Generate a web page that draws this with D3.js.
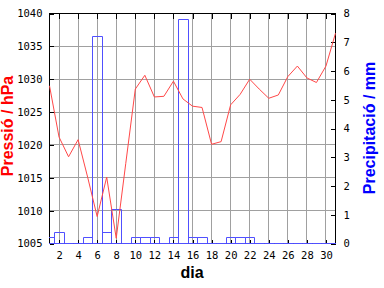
<!DOCTYPE html>
<html>
<head>
<meta charset="utf-8">
<script src="https://cdn.jsdelivr.net/npm/d3@7"></script>
<style>
	body { margin: 0; background: #fff; }
	.tick text { font-family: "DejaVu Sans Mono", monospace; font-size: 10.5px; fill: #000; }
	.title { font-family: "Liberation Sans", Arial, sans-serif; font-size: 16px; font-weight: bold; }
</style>
</head>
<body>
<script>
// data
const days = [1, 2, 3, 4, 5, 6, 7, 8, 9, 10, 11, 12, 13, 14, 15, 16, 17, 18, 19, 20, 21, 22, 23, 24, 25, 26, 27, 28, 29, 30, 31];
const pressure = [1029.0, 1021.2, 1018.2, 1020.8, 1015.1, 1009.1, 1015.1, 1005.8, 1017.2, 1028.5,
	1030.6, 1027.3, 1027.4, 1029.7, 1027.0, 1025.9, 1025.7, 1020.1, 1020.5, 1026.1,
	1027.7, 1030.0, 1028.5, 1027.1, 1027.6, 1030.4, 1032.0, 1030.2, 1029.5, 1032.0, 1037.0];
const precip = [0.2, 0.4, 0, 0, 0.2, 7.2, 0.4, 1.2, 0, 0.2,
	0.2, 0.2, 0, 0.2, 7.8, 0.2, 0.2, 0, 0, 0.2,
	0.2, 0.2, 0, 0, 0, 0, 0, 0, 0, 0, 0];
const dayTicks = [2, 4, 6, 8, 10, 12, 14, 16, 18, 20, 22, 24, 26, 28, 30];
const pressTicks = [1005, 1010, 1015, 1020, 1025, 1030, 1035, 1040];
const precipTicks = [0, 1, 2, 3, 4, 5, 6, 7, 8];

const width = 384, height = 288,
	plotL = 49.5, plotR = 335.5, plotT = 13.5, plotB = 243.5;

const svg = d3.select("body")
	.append("svg")
	.attr("width", width)
	.attr("height", height);

const x = d3.scaleLinear().domain([1, 31]).range([plotL, plotR]),
	yP = d3.scaleLinear().domain([1005, 1040]).range([plotB, plotT]),
	yR = d3.scaleLinear().domain([0, 8]).range([plotB, plotT]);

// grid
svg.append("g")
	.attr("shape-rendering", "crispEdges")
	.selectAll("line")
	.data(dayTicks)
	.enter()
	.append("line")
	.attr("x1", d => x(d)).attr("x2", d => x(d))
	.attr("y1", plotT).attr("y2", plotB)
	.attr("stroke", "#a0a0a0");
svg.append("g")
	.attr("shape-rendering", "crispEdges")
	.selectAll("line")
	.data(pressTicks.slice(1, -1))
	.enter()
	.append("line")
	.attr("x1", plotL).attr("x2", plotR)
	.attr("y1", d => yP(d)).attr("y2", d => yP(d))
	.attr("stroke", "#a0a0a0");

// frame
svg.append("rect")
	.attr("x", plotL).attr("y", plotT)
	.attr("width", plotR - plotL).attr("height", plotB - plotT)
	.attr("fill", "none")
	.attr("stroke", "#000");

// axes with inward ticks
const axisStyle = g => {
	g.select(".domain").remove();
	g.selectAll(".tick line").attr("stroke", "#000").attr("shape-rendering", "crispEdges");
};

svg.append("g")
	.attr("transform", `translate(${plotL},0)`)
	.call(d3.axisLeft(yP).tickValues(pressTicks).tickSize(-4).tickPadding(7).tickFormat(d3.format("d")))
	.call(axisStyle);
svg.append("g")
	.attr("transform", `translate(${plotR},0)`)
	.call(d3.axisRight(yR).tickValues(precipTicks).tickSize(-5).tickPadding(8))
	.call(axisStyle);
svg.append("g")
	.attr("transform", `translate(0,${plotB})`)
	.call(d3.axisBottom(x).tickValues(dayTicks).tickSize(-4).tickPadding(8))
	.call(axisStyle);
svg.append("g")
	.attr("transform", `translate(0,${plotT})`)
	.call(d3.axisTop(x).tickValues(dayTicks).tickSize(-5).tickFormat(""))
	.call(axisStyle);

// clip for bars
svg.append("clipPath")
	.attr("id", "plot")
	.append("rect")
	.attr("x", plotL - 0.5).attr("y", plotT - 0.5)
	.attr("width", plotR - plotL + 1).attr("height", plotB - plotT + 1);

// precipitation bars (paths so that zero bars still show)
svg.append("g")
	.attr("clip-path", "url(#plot)")
	.selectAll("path")
	.data(days)
	.enter()
	.append("path")
	.attr("d", (d, i) => {
		const x0 = Math.round(x(d - 0.5)) + 0.5, x1 = Math.round(x(d + 0.5)) + 0.5,
			y0 = plotB, y1 = Math.round(yR(precip[i]) - 0.5) + 0.5;
		return `M${x0},${y0}V${y1}H${x1}V${y0}Z`;
	})
	.attr("fill", "none")
	.attr("stroke", "#5050ff");

// pressure line
const line = d3.line()
	.x((d, i) => x(days[i]))
	.y(d => yP(d));

svg.append("path")
	.datum(pressure)
	.attr("d", line)
	.attr("fill", "none")
	.attr("stroke", "#ff4848");

// titles
svg.append("text")
	.attr("class", "title")
	.attr("transform", "translate(13,126) rotate(-90)")
	.attr("text-anchor", "middle")
	.attr("fill", "#ff0000")
	.text("Pressió / hPa");
svg.append("text")
	.attr("class", "title")
	.attr("transform", "translate(375,128) rotate(-90)")
	.attr("text-anchor", "middle")
	.attr("fill", "#0000ff")
	.text("Precipitació / mm");
svg.append("text")
	.attr("class", "title")
	.attr("x", 192)
	.attr("y", 278)
	.attr("text-anchor", "middle")
	.attr("fill", "#000")
	.text("dia");
</script>
</body>
</html>
